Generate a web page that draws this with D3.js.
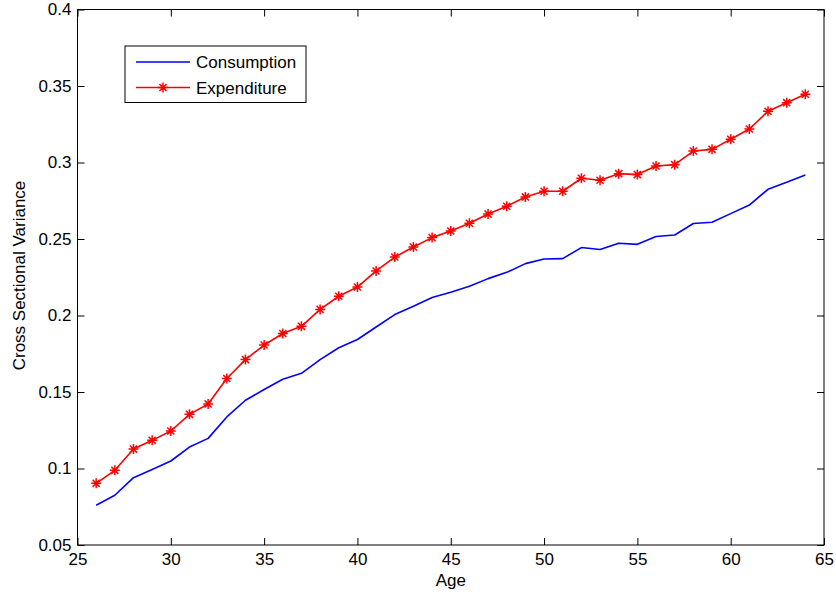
<!DOCTYPE html>
<html>
<head>
<meta charset="utf-8">
<script src="https://cdn.jsdelivr.net/npm/d3@7"></script>
<style>
  body { margin: 0; background: #fff; }
  text { font-family: "Liberation Sans", Arial, Helvetica, sans-serif; fill: #000; }
</style>
</head>
<body>
<div id="chart"></div>
<script>
const ages = d3.range(26, 65);

const consumption = [
    0.0760, 0.0825, 0.0940, 0.0993, 0.1049, 0.1140, 0.1197, 0.1337, 0.1446, 0.1516,
    0.1583, 0.1622, 0.1712, 0.1789, 0.1843, 0.1925, 0.2006, 0.2060, 0.2117, 0.2152,
    0.2191, 0.2241, 0.2282, 0.2339, 0.2369, 0.2372, 0.2444, 0.2431, 0.2472, 0.2465,
    0.2516, 0.2526, 0.2601, 0.2609, 0.2666, 0.2722, 0.2825, 0.2871, 0.2918
];

const expenditure = [
    0.0903, 0.0988, 0.1127, 0.1184, 0.1245, 0.1354, 0.1422, 0.1588, 0.1712, 0.1807,
    0.1882, 0.1929, 0.2040, 0.2126, 0.2186, 0.2291, 0.2382, 0.2448, 0.2509, 0.2552,
    0.2603, 0.2663, 0.2714, 0.2775, 0.2812, 0.2812, 0.2897, 0.2884, 0.2927, 0.2921,
    0.2977, 0.2986, 0.3075, 0.3086, 0.3152, 0.3219, 0.3335, 0.3391, 0.3446
];

const xTicks = [25, 30, 35, 40, 45, 50, 55, 60, 65];
const yTicks = [0.05, 0.1, 0.15, 0.2, 0.25, 0.3, 0.35, 0.4];

const series = [
    { name: 'Consumption', values: consumption, color: '#0000ff', marker: false },
    { name: 'Expenditure', values: expenditure, color: '#ff0000', marker: true },
];

const width = 836, height = 597;
const plot = { left: 77.5, right: 824, top: 9.5, bottom: 545 };
const tickLen = 7;
const fontSize = 17;

const svg = d3.select('#chart').append('svg')
    .attr('width', width)
    .attr('height', height);

const x = d3.scaleLinear().domain([25, 65]).range([plot.left, plot.right]);
const y = d3.scaleLinear().domain([0.05, 0.4]).range([plot.bottom, plot.top]);

const fmt = d => String(+d.toFixed(2));

// axes: ticks inward on all four sides
const axisStyle = g => {
    g.select('.domain').remove();
    g.selectAll('.tick line').attr('stroke', '#000').attr('stroke-width', 1);
    g.selectAll('.tick text').attr('font-size', fontSize).attr('fill', '#000')
        .style('font-family', '"Liberation Sans", Arial, sans-serif');
};

svg.append('g')
    .attr('transform', `translate(0,${plot.bottom})`)
    .call(d3.axisBottom(x).tickValues(xTicks).tickFormat(fmt).tickSizeInner(-tickLen).tickSizeOuter(0).tickPadding(8))
    .call(axisStyle);

svg.append('g')
    .attr('transform', `translate(0,${plot.top})`)
    .call(d3.axisTop(x).tickValues(xTicks).tickFormat('').tickSizeInner(-tickLen).tickSizeOuter(0))
    .call(axisStyle);

svg.append('g')
    .attr('transform', `translate(${plot.left},0)`)
    .call(d3.axisLeft(y).tickValues(yTicks).tickFormat(fmt).tickSizeInner(-tickLen).tickSizeOuter(0).tickPadding(6))
    .call(axisStyle);

svg.append('g')
    .attr('transform', `translate(${plot.right},0)`)
    .call(d3.axisRight(y).tickValues(yTicks).tickFormat('').tickSizeInner(-tickLen).tickSizeOuter(0))
    .call(axisStyle);

// box
svg.append('rect')
    .attr('x', plot.left)
    .attr('y', plot.top)
    .attr('width', plot.right - plot.left)
    .attr('height', plot.bottom - plot.top)
    .attr('fill', 'none')
    .attr('stroke', '#000')
    .attr('stroke-width', 1);

// asterisk marker, MATLAB style
const starPath = r => {
    const d = r * Math.SQRT1_2;
    return `M${-r},0L${r},0M0,${-r}L0,${r}M${-d},${-d}L${d},${d}M${-d},${d}L${d},${-d}`;
};

const line = d3.line()
    .x((d, i) => x(ages[i]))
    .y(d => y(d));

series.forEach(s => {
    svg.append('path')
        .datum(s.values)
        .attr('d', line)
        .attr('fill', 'none')
        .attr('stroke', s.color)
        .attr('stroke-width', 1.6)
        .attr('stroke-linejoin', 'round');

    if(s.marker)
        svg.append('g')
            .selectAll('path')
            .data(s.values)
            .enter()
                .append('path')
                    .attr('transform', (d, i) => `translate(${x(ages[i])},${y(d)})`)
                    .attr('d', starPath(5))
                    .attr('stroke', s.color)
                    .attr('stroke-width', 1.5)
                    .attr('fill', 'none');
});

// axis labels
svg.append('text')
    .attr('x', (plot.left + plot.right) / 2)
    .attr('y', 586)
    .attr('text-anchor', 'middle')
    .attr('font-size', fontSize)
    .text('Age');

svg.append('text')
    .attr('transform', `translate(25,275.5) rotate(-90)`)
    .attr('text-anchor', 'middle')
    .attr('font-size', fontSize)
    .text('Cross Sectional Variance');

// legend
const legend = svg.append('g');
legend.append('rect')
    .attr('x', 125)
    .attr('y', 46)
    .attr('width', 181)
    .attr('height', 56.5)
    .attr('fill', '#fff')
    .attr('stroke', '#000')
    .attr('stroke-width', 1);

series.forEach((s, i) => {
    const ly = 62 + i * 25.5;
    legend.append('line')
        .attr('x1', 136).attr('x2', 190)
        .attr('y1', ly).attr('y2', ly)
        .attr('stroke', s.color)
        .attr('stroke-width', 1.6);
    if(s.marker)
        legend.append('path')
            .attr('transform', `translate(163,${ly})`)
            .attr('d', starPath(5))
            .attr('stroke', s.color)
            .attr('stroke-width', 1.5);
    legend.append('text')
        .attr('x', 196)
        .attr('y', ly + 6)
        .attr('font-size', fontSize)
        .text(s.name);
});
</script>
</body>
</html>
